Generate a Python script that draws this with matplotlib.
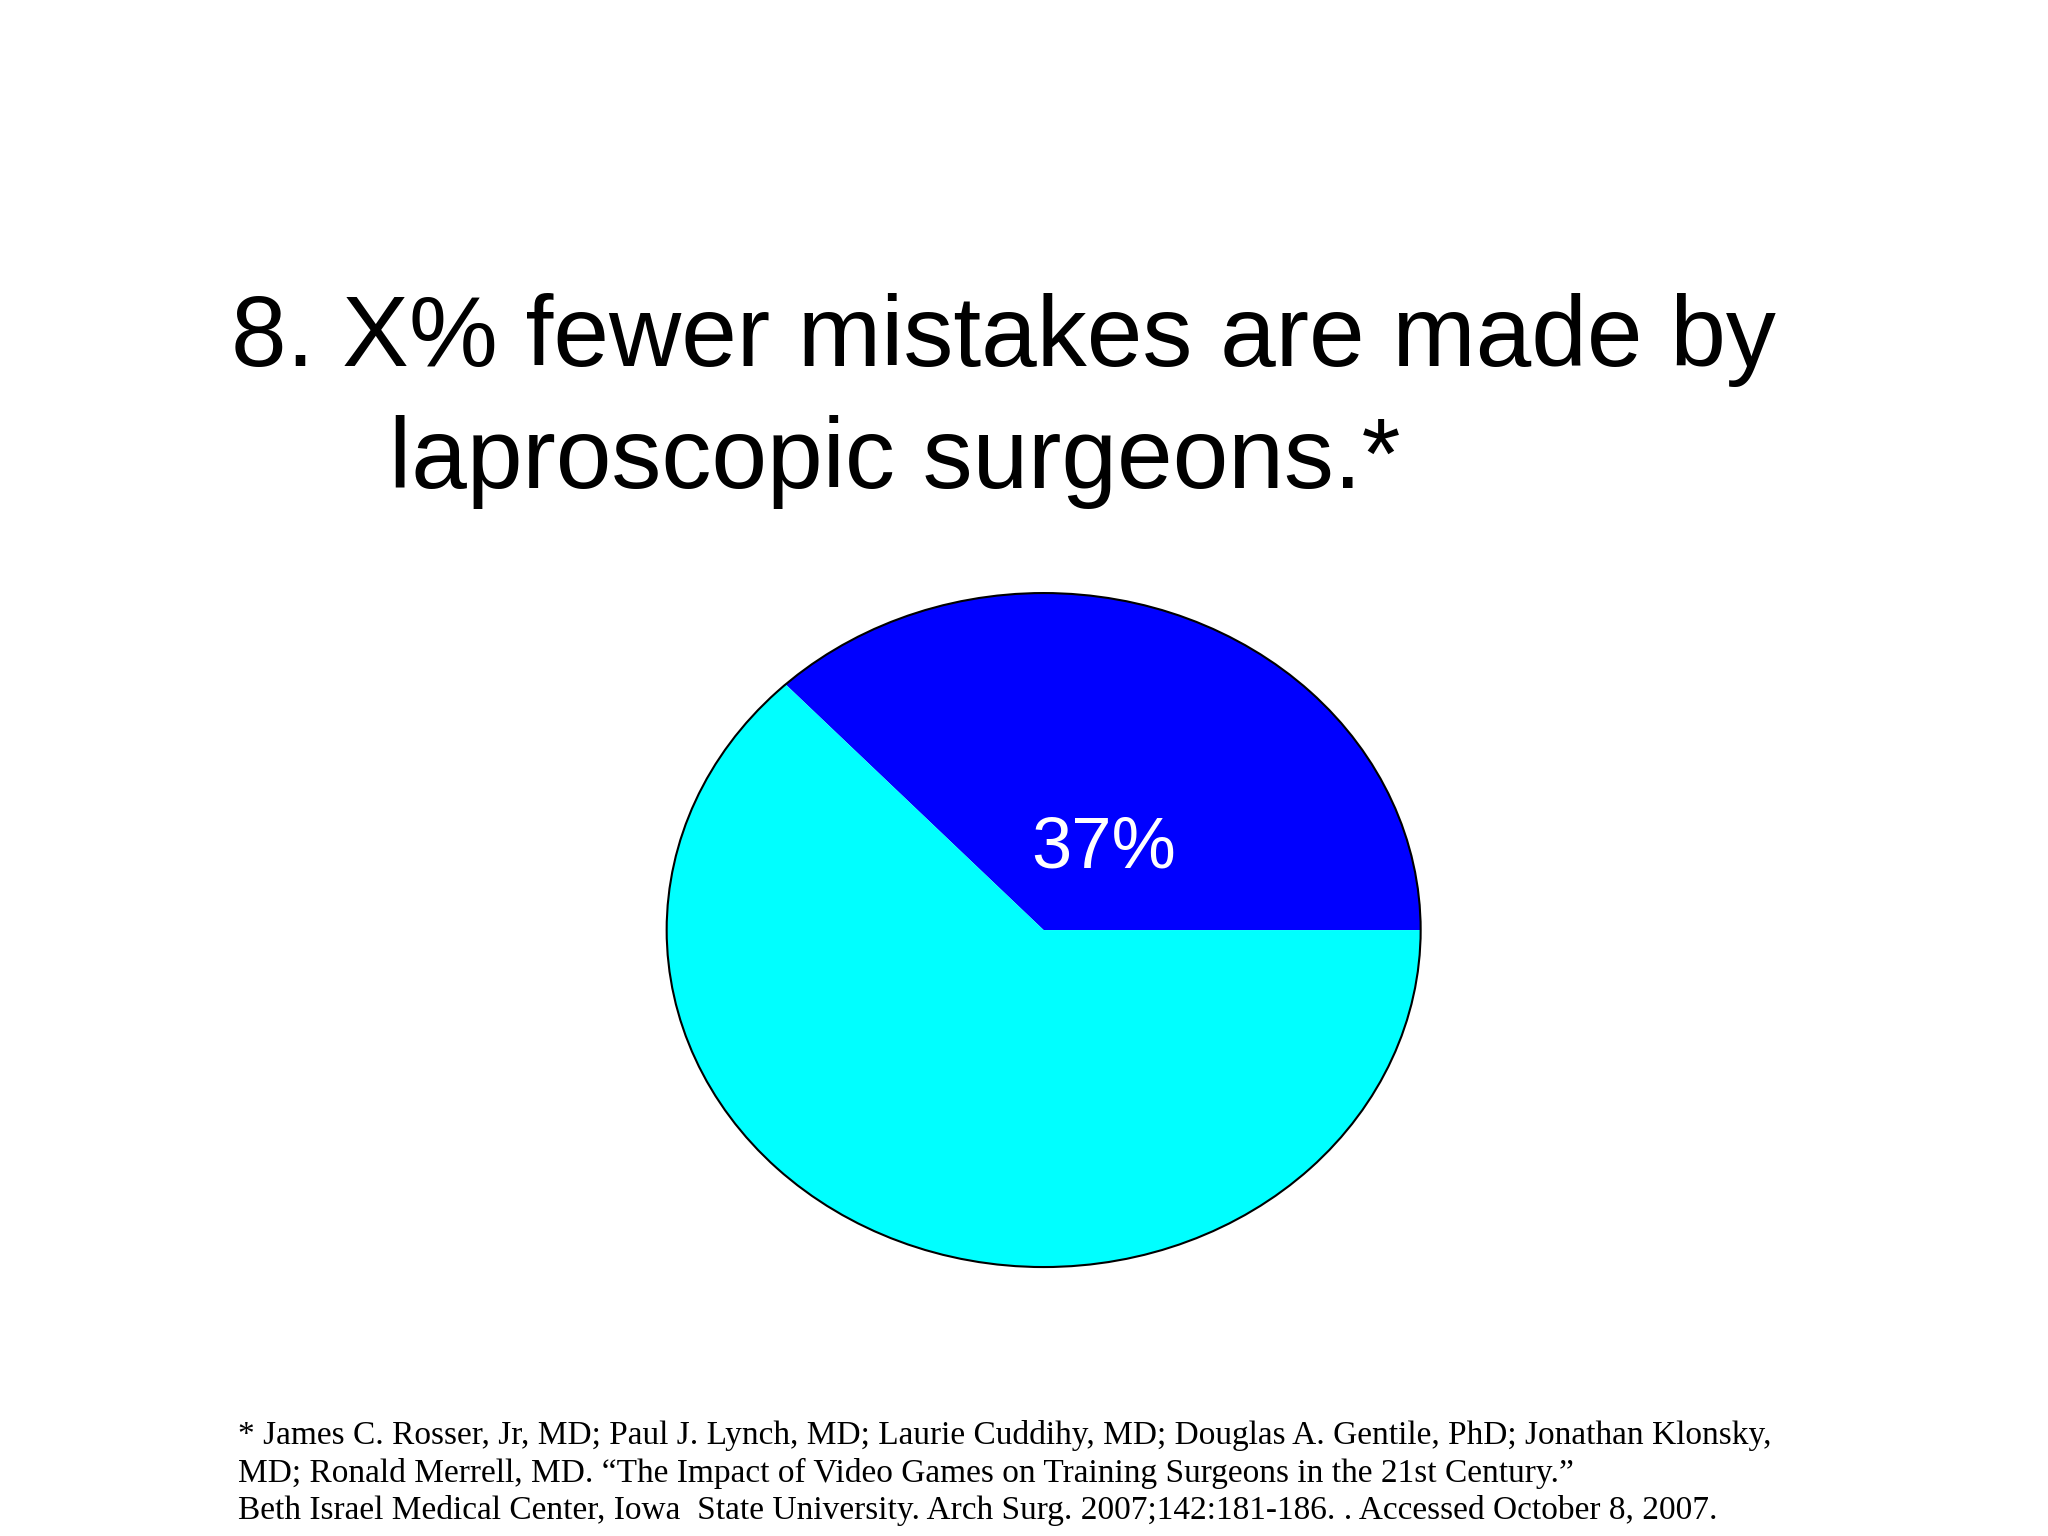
import matplotlib.pyplot as plt
from matplotlib.patches import Circle

shares = [37, 63]
colors = ['#0000FF', '#00FFFF']
label = '37%'

fig = plt.figure(figsize=(20.48, 15.36), dpi=100)
fig.patch.set_facecolor('white')

fig.text(0.113, 0.762, '8. X% fewer mistakes are made by', fontsize=72,
         family='Liberation Sans', va='baseline')
fig.text(0.190, 0.682, 'laproscopic surgeons.*', fontsize=72,
         family='Liberation Sans', va='baseline')

ax = fig.add_axes([0.3246, 0.174, 0.370, 0.441])
ax.pie(shares, colors=colors, startangle=0, counterclock=True,
       wedgeprops=dict(linewidth=0))
ax.add_patch(Circle((0, 0), 1, fill=False, edgecolor='black', linewidth=1.5))
ax.set_aspect('auto')
ax.set_xlim(-1.005, 1.005)
ax.set_ylim(-1.005, 1.005)
ax.axis('off')

fig.text(0.539, 0.447, label, fontsize=52, color='white',
         family='Liberation Sans', ha='center', va='center')

foot = ['* James C. Rosser, Jr, MD; Paul J. Lynch, MD; Laurie Cuddihy, MD; Douglas A. Gentile, PhD; Jonathan Klonsky,',
        'MD; Ronald Merrell, MD. \u201cThe Impact of Video Games on Training Surgeons in the 21st Century.\u201d',
        'Beth Israel Medical Center, Iowa  State University. Arch Surg. 2007;142:181-186. . Accessed October 8, 2007.']
for y, line in zip([0.060, 0.035, 0.011], foot):
    fig.text(0.116, y, line, fontsize=24, family='Liberation Serif', va='baseline')

fig.savefig('out.png', dpi=100, facecolor='white')
